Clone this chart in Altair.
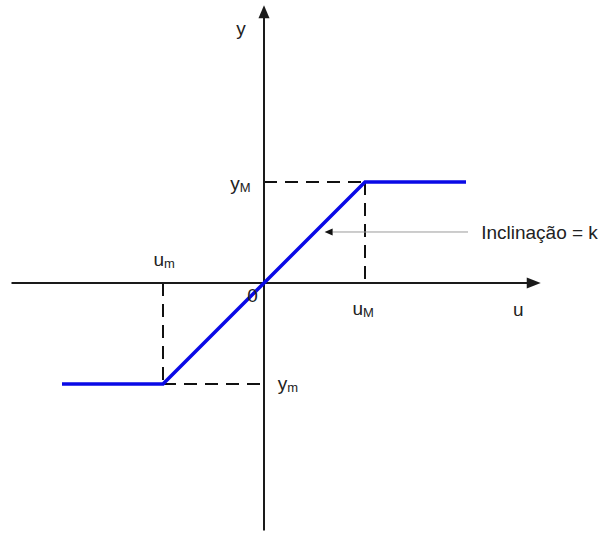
import altair as alt
import pandas as pd

# Saturation characteristic: output follows slope k between the limits
U_LOW, U_HIGH = -1.0, 1.0      # u_m, u_M
Y_LOW, Y_HIGH = -1.0, 1.0      # y_m, y_M

curve_u = [-2.0, U_LOW, U_HIGH, 2.0]
curve_y = [Y_LOW, Y_LOW, Y_HIGH, Y_HIGH]

# Coordinate axes: shaft start, shaft end, arrow tip
h_axis = [-2.5, 2.62, 2.74]
v_axis = [-2.45, 2.64, 2.75]

# Dashed guides from the break points to the axes
guide_u1 = [0.0, U_HIGH, U_LOW, U_LOW]
guide_y1 = [Y_HIGH, Y_HIGH, 0.0, Y_LOW]
guide_u2 = [U_HIGH, U_HIGH, U_LOW, 0.0]
guide_y2 = [Y_HIGH, 0.0, Y_LOW, Y_LOW]

# Slope annotation
note_text = "Inclinação = k"
note_arrow_u = [0.60, 2.02]   # tip, tail
note_arrow_y = 0.505
note_pos = (2.15, 0.436)

# Labels: main text, subscript, anchor u, baseline y
label_main = ["y", "u", "0", "y", "u", "u", "y"]
label_sub = ["", "", "", "M", "m", "M", "m"]
label_u = [-0.18, 2.57, -0.06, -0.24, -0.99, 0.98, 0.23]
label_y = [2.455, -0.33, -0.19, 0.92, 0.17, -0.32, -1.06]

xs = alt.Scale(domain=[-264 / 101, 336 / 101], nice=False, zero=False)
ys = alt.Scale(domain=[-251 / 101, 283 / 101], nice=False, zero=False)

def X(f):
    return alt.X(f, type="quantitative", scale=xs, axis=None)

def Y(f):
    return alt.Y(f, type="quantitative", scale=ys, axis=None)

AX = "#1a1a1a"

axes_df = pd.DataFrame({
    "x": [h_axis[0], 0.0], "y": [0.0, v_axis[0]],
    "x2": [h_axis[1], 0.0], "y2": [0.0, v_axis[1]],
})
axes = alt.Chart(axes_df).mark_rule(color=AX, strokeWidth=2).encode(
    x=X("x"), y=Y("y"), x2="x2", y2="y2")

h_tip = alt.Chart(pd.DataFrame({"x": [h_axis[2]], "y": [0.0]})).mark_point(
    shape="M0,0L-2,-0.8L-2,0.8Z", size=196, filled=True, color=AX, opacity=1
).encode(x=X("x"), y=Y("y"))

v_tip = alt.Chart(pd.DataFrame({"x": [0.0], "y": [v_axis[2]]})).mark_point(
    shape="M0,0L-0.85,2L0.85,2Z", size=169, filled=True, color=AX, opacity=1
).encode(x=X("x"), y=Y("y"))

guides_df = pd.DataFrame({"x": guide_u1, "y": guide_y1, "x2": guide_u2, "y2": guide_y2})
guides = alt.Chart(guides_df).mark_rule(
    color="#111111", strokeWidth=2, strokeDash=[13, 8]
).encode(x=X("x"), y=Y("y"), x2="x2", y2="y2")

curve_df = pd.DataFrame({"u": curve_u, "y": curve_y, "i": range(len(curve_u))})
curve = alt.Chart(curve_df).mark_line(
    color="#0a0ae6", strokeWidth=3.5, strokeJoin="miter"
).encode(x=X("u"), y=Y("y"), order="i")

note_df = pd.DataFrame({"x": [note_arrow_u[0] + 0.08], "x2": [note_arrow_u[1]],
                        "y": [note_arrow_y]})
note_line = alt.Chart(note_df).mark_rule(color="#9a9a9a", strokeWidth=1).encode(
    x=X("x"), x2="x2", y=Y("y"))
note_tip = alt.Chart(pd.DataFrame({"x": [note_arrow_u[0]], "y": [note_arrow_y]})).mark_point(
    shape="M0,0L2,-0.9L2,0.9Z", size=64, filled=True, color="#111111", opacity=1
).encode(x=X("x"), y=Y("y"))

note = alt.Chart(pd.DataFrame({"x": [note_pos[0]], "y": [note_pos[1]], "t": [note_text]})).mark_text(
    align="left", baseline="alphabetic", font="Liberation Sans", fontSize=19, color="#222222"
).encode(x=X("x"), y=Y("y"), text="t")

labels_df = pd.DataFrame({"main": label_main, "sub": label_sub, "x": label_u, "y": label_y})
main_text = alt.Chart(labels_df).mark_text(
    align="right", baseline="alphabetic", font="Liberation Sans", fontSize=19, color="#222222"
).encode(x=X("x"), y=Y("y"), text="main")
sub_text = alt.Chart(labels_df).mark_text(
    align="left", baseline="alphabetic", font="Liberation Sans", fontSize=13, color="#222222", dy=2
).encode(x=X("x"), y=Y("y"), text="sub")

chart = alt.layer(
    guides, axes, h_tip, v_tip, curve, note_line, note_tip, note, main_text, sub_text
).properties(
    width=600, height=534, autosize=alt.AutoSizeParams(type="none"), padding=0,
    background="white"
).configure_view(stroke=None)

chart.save("out.html", embed_options={"renderer": "svg", "actions": False})
